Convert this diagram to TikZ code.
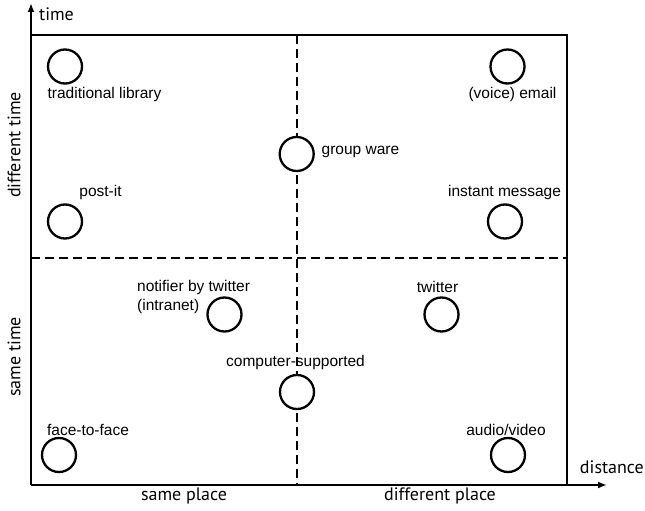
\documentclass[tikz,border=0pt]{standalone}
\usepackage{fontspec}
\setmainfont{Liberation Sans}
\newfontfamily\axisfont{PT Sans}
\usetikzlibrary{arrows.meta}
\begin{document}
\begin{tikzpicture}[x=1pt,y=-1pt,
  spot/.style={draw, fill=white, circle, minimum size=34pt, inner sep=0pt, line width=2.3pt},
  lbl/.style={inner sep=0pt, font=\fontsize{15.5}{18.5}\selectfont},
  axlbl/.style={inner sep=0pt, font=\axisfont\fontsize{18}{21}\selectfont},
  axis/.style={line width=1.8pt, -{Latex[length=9pt,width=7pt]}},
  frame/.style={line width=1.8pt},
  divider/.style={line width=1.6pt, dash pattern=on 9pt off 5pt}]
\useasboundingbox (0,0) rectangle (645,511);

% axes and quadrant frame
\coordinate (O) at (31,485);
\coordinate (T) at (31,3);
\coordinate (D) at (607,485);
\coordinate (TL) at (31,35);
\coordinate (TR) at (567,35);
\coordinate (BR) at (567,485);
\coordinate (ML) at (31,258);
\coordinate (MR) at (567,258);
\coordinate (MT) at (297,35);
\coordinate (MB) at (297,485);

\draw[divider] (ML) -- (MR);
\draw[divider] (MT) -- (MB);
\draw[frame] (TL) -- (TR) -- (BR);
\draw[axis] (O) -- (T);
\draw[axis] (O) -- (D);

\node[axlbl, anchor=west] (time) at (39,14) {time};
\node[axlbl, anchor=east] (dist) at (644,467) {distance};
\node[axlbl, rotate=90] (dtime) at (14,145) {different time};
\node[axlbl, rotate=90] (stime) at (14,357) {same time};
\node[axlbl] (splace) at (184,496) {same place};
\node[axlbl] (dplace) at (440,496) {different place};

% communication means
\node[spot] (lib) at (65,66.5) {};
\node[lbl] (libl) at (104.5,94) {traditional library};

\node[spot] (mail) at (507.5,66.5) {};
\node[lbl] (maill) at (512.5,94) {(voice) email};

\node[spot] (gw) at (296.7,154) {};
\node[lbl, anchor=west] (gwl) at (321.5,151.5) {group ware};

\node[spot] (post) at (65,221.5) {};
\node[lbl] (postl) at (100.5,192.5) {post-it};

\node[spot] (im) at (505,221.5) {};
\node[lbl] (iml) at (504.5,192.5) {instant message};

\node[spot] (notif) at (224.5,314.5) {};
\node[lbl, anchor=west, align=left] (notifl) at (137,297) {notifier by twitter\\(intranet)};

\node[spot] (tw) at (441.5,314.5) {};
\node[lbl] (twl) at (437.5,287) {twitter};

\node[spot] (csc) at (297,392) {};
\node[lbl] (cscl) at (295.5,362) {computer-supported};

\node[spot] (f2f) at (59,455) {};
\node[lbl] (f2fl) at (88,430) {face-to-face};

\node[spot] (av) at (508,455) {};
\node[lbl] (avl) at (506,430) {audio/video};
\end{tikzpicture}
\end{document}
